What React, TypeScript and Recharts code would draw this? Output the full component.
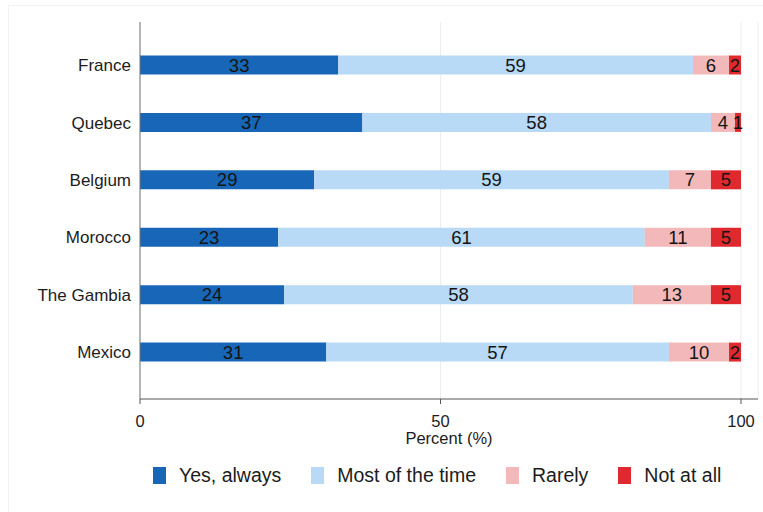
import React from 'react';
import { BarChart, Bar, XAxis, YAxis, CartesianGrid, LabelList } from 'recharts';

const countries = ['France', 'Quebec', 'Belgium', 'Morocco', 'The Gambia', 'Mexico'];
const yesAlways = [33, 37, 29, 23, 24, 31];
const mostOfTheTime = [59, 58, 59, 61, 58, 57];
const rarely = [6, 4, 7, 11, 13, 10];
const notAtAll = [2, 1, 5, 5, 5, 2];
const xTicks = [0, 50, 100];

const series = [
  { key: 'yes', name: 'Yes, always', color: '#1866b7', values: yesAlways },
  { key: 'most', name: 'Most of the time', color: '#b8daf6', values: mostOfTheTime },
  { key: 'rarely', name: 'Rarely', color: '#f3b9ba', values: rarely },
  { key: 'not', name: 'Not at all', color: '#e0292f', values: notAtAll },
];

const data = countries.map((country, i) => {
  const row: Record<string, string | number> = { country };
  series.forEach((s) => {
    row[s.key] = s.values[i];
  });
  return row;
});

const FONT = '"Liberation Sans", Arial, sans-serif';

export default function App() {
  return (
    <div
      style={{
        position: 'absolute',
        left: 0,
        top: 0,
        width: 763,
        height: 512,
        background: '#fff',
        fontFamily: FONT,
      }}
    >
      <div
        style={{
          position: 'absolute',
          left: 8,
          top: 5,
          width: 760,
          height: 510,
          borderLeft: '1px solid #f3f3f3',
          borderTop: '1px solid #f3f3f3',
        }}
      />
      <BarChart
        width={763}
        height={512}
        data={data}
        layout="vertical"
        margin={{ top: 22, right: 5, bottom: 63, left: 10 }}
        style={{ position: 'absolute', left: 0, top: 0 }}
      >
        <CartesianGrid horizontal={false} vertical={true} stroke="#ececec" />
        <XAxis
          type="number"
          domain={[0, 102.83]}
          ticks={xTicks}
          allowDataOverflow
          height={50}
          tickSize={5}
          tickMargin={11}
          axisLine={{ stroke: '#555' }}
          tickLine={{ stroke: '#555' }}
          tick={{ fill: '#1c1c1c', fontSize: 16.5, fontFamily: FONT }}
          label={{
            value: 'Percent (%)',
            position: 'insideBottom',
            offset: 5,
            fill: '#1c1c1c',
            fontSize: 16.5,
            fontFamily: FONT,
          }}
        />
        <YAxis
          type="category"
          dataKey="country"
          width={130}
          padding={{ top: 14.5, bottom: 18 }}
          axisLine={{ stroke: '#777' }}
          tickLine={false}
          tickSize={0}
          tickMargin={9}
          tick={{ fill: '#1c1c1c', fontSize: 17, fontFamily: FONT }}
        />
        {series.map((s) => (
          <Bar
            key={s.key}
            dataKey={s.key}
            name={s.name}
            stackId="a"
            fill={s.color}
            barSize={19}
            isAnimationActive={false}
          >
            <LabelList
              dataKey={s.key}
              position="center"
              fill="#141414"
              fontSize={18.5}
              fontFamily={FONT}
            />
          </Bar>
        ))}
      </BarChart>
      <div
        style={{
          position: 'absolute',
          left: 153,
          top: 467,
          display: 'flex',
          alignItems: 'center',
          gap: 30,
          fontSize: 19.5,
          color: '#1c1c1c',
          fontFamily: FONT,
          whiteSpace: 'nowrap',
        }}
      >
        {series.map((s) => (
          <div key={s.key} style={{ display: 'flex', alignItems: 'center' }}>
            <div style={{ width: 13, height: 17, background: s.color, marginRight: 13 }} />
            <span style={{ lineHeight: '17px' }}>{s.name}</span>
          </div>
        ))}
      </div>
    </div>
  );
}
